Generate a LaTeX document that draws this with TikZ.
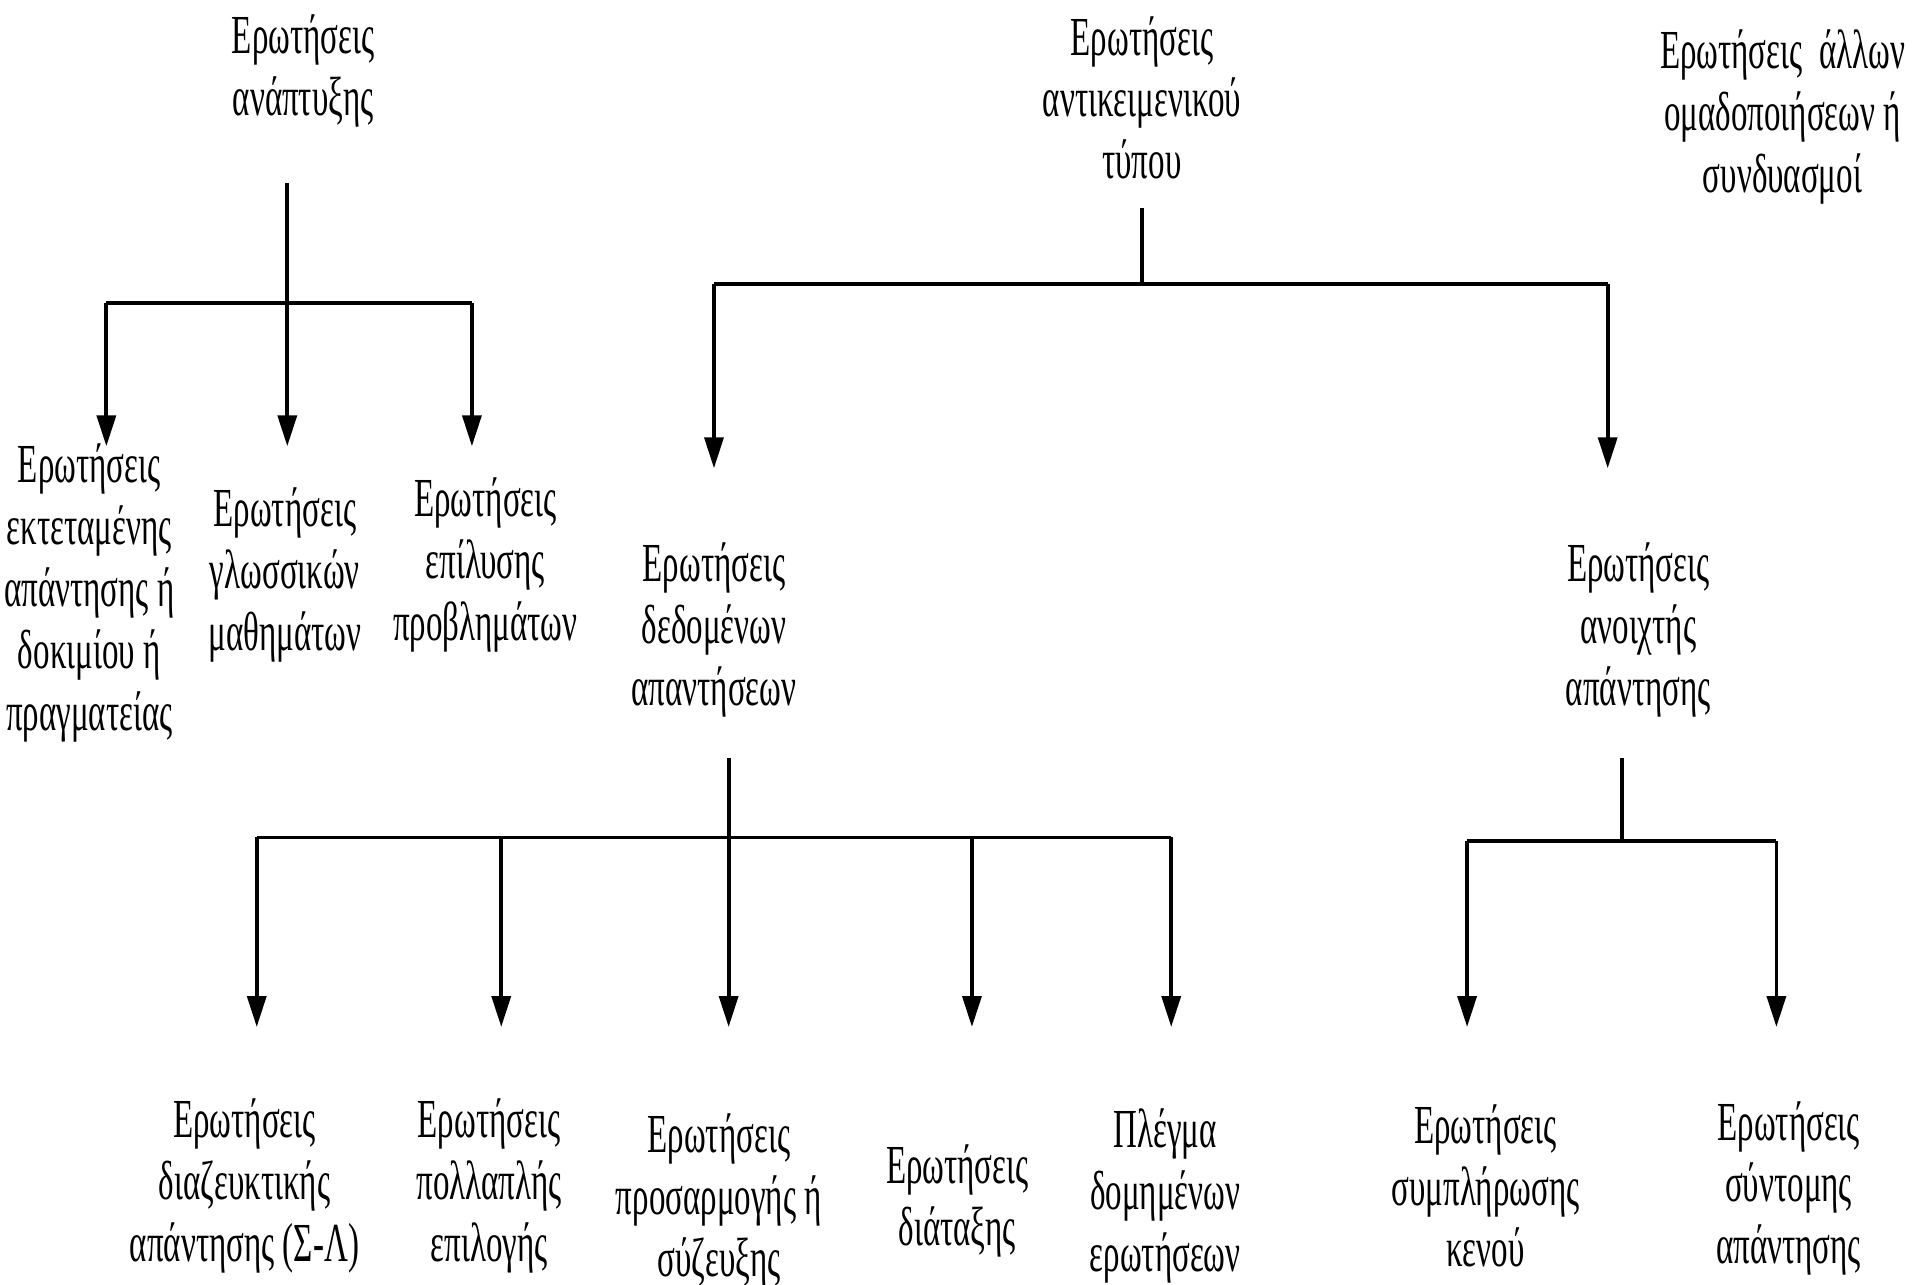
\documentclass[tikz,border=0pt]{standalone}
\usepackage{fontspec}
\setmainfont{Liberation Serif}[FakeStretch=0.6]
\usetikzlibrary{arrows.meta}

\begin{document}
\begin{tikzpicture}[
    x=0.0125cm, y=-0.0125cm,
    every node/.style={font=\fontsize{16}{18}\selectfont},
    txt/.style={align=center, inner sep=0pt},
    link/.style={line width=1.1pt},
    arrow/.style={-{Triangle[length=9pt, width=5.5pt]}, line width=1.1pt}
]
\useasboundingbox (0,0) rectangle (1568,1051);
% Πρώτο επίπεδο
\node[txt] (anapt) at (248,58) {Ερωτήσεις\\ανάπτυξης};
\node[txt] (antik) at (934,80) {Ερωτήσεις\\αντικειμενικού\\τύπου};
\node[txt] (allwn) at (1458,96) {Ερωτήσεις\ \ άλλων\\ομαδοποιήσεων ή\\συνδυασμοί};
% Δεύτερο επίπεδο
\node[txt] (ektet) at (73,485) {Ερωτήσεις\\εκτεταμένης\\απάντησης ή\\δοκιμίου ή\\πραγματείας};
\node[txt] (glwss) at (233,470) {Ερωτήσεις\\γλωσσικών\\μαθημάτων};
\node[txt] (epil) at (397,462) {Ερωτήσεις\\επίλυσης\\προβλημάτων};
\node[txt] (dedom) at (584,515) {Ερωτήσεις\\δεδομένων\\απαντήσεων};
\node[txt] (anoixt) at (1340,515) {Ερωτήσεις\\ανοιχτής\\απάντησης};
% Τρίτο επίπεδο
\node[txt] (diaz) at (200,970) {Ερωτήσεις\\διαζευκτικής\\απάντησης (Σ-Λ)};
\node[txt] (poll) at (400,970) {Ερωτήσεις\\πολλαπλής\\επιλογής};
\node[txt] (prosarm) at (588,982) {Ερωτήσεις\\προσαρμογής ή\\σύζευξης};
\node[txt] (diatax) at (783,982) {Ερωτήσεις\\διάταξης};
\node[txt] (plegma) at (953,978) {Πλέγμα\\δομημένων\\ερωτήσεων};
\node[txt] (sympl) at (1215,970) {Ερωτήσεις\\συμπλήρωσης\\κενού};
\node[txt] (synt) at (1463,972) {Ερωτήσεις\\σύντομης\\απάντησης};
% Σημεία διακλάδωσης
\coordinate (aTop) at (235,150);
\coordinate (a1) at (87,248);
\coordinate (a2) at (235,248);
\coordinate (a3) at (386,248);
\coordinate (aEnd) at (0,365);
\coordinate (bTop) at (934,170);
\coordinate (bJ) at (934,232);
\coordinate (b1) at (584,232);
\coordinate (b2) at (1315,232);
\coordinate (bEnd) at (0,383);
\coordinate (cTop) at (596,620);
\coordinate (c1) at (210,685);
\coordinate (c2) at (410,685);
\coordinate (c3) at (596,685);
\coordinate (c4) at (795,685);
\coordinate (c5) at (958,685);
\coordinate (cEnd) at (0,840);
\coordinate (dTop) at (1327,620);
\coordinate (dJ) at (1327,688);
\coordinate (d1) at (1200,688);
\coordinate (d2) at (1453,688);
\coordinate (dEnd) at (0,840);
% Γραμμές
\draw[link] (aTop) -- (a2);
\draw[link] (a1) -- (a3);
\foreach \b in {a1,a2,a3} \draw[arrow] (\b) -- (\b |- aEnd);
\draw[link] (bTop) -- (bJ);
\draw[link] (b1) -- (b2);
\foreach \b in {b1,b2} \draw[arrow] (\b) -- (\b |- bEnd);
\draw[link] (cTop) -- (c3);
\draw[link] (c1) -- (c5);
\foreach \b in {c1,c2,c3,c4,c5} \draw[arrow] (\b) -- (\b |- cEnd);
\draw[link] (dTop) -- (dJ);
\draw[link] (d1) -- (d2);
\foreach \b in {d1,d2} \draw[arrow] (\b) -- (\b |- dEnd);
\end{tikzpicture}
\end{document}
